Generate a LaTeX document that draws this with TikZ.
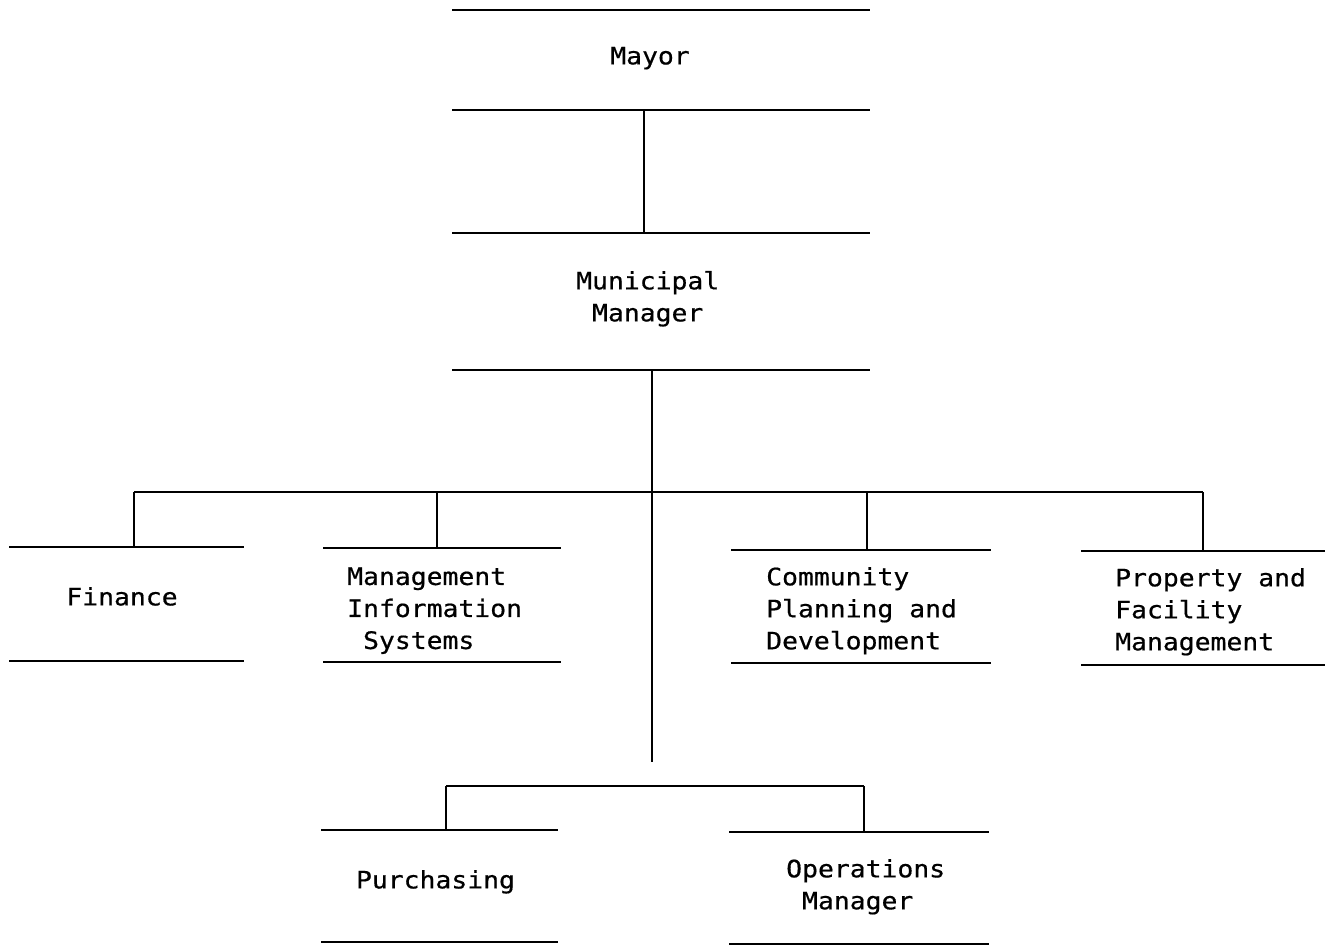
\documentclass[tikz,border=0pt]{standalone}
\usepackage{fontspec}
\newfontfamily\orgmono[FakeStretch=1.1,FakeBold=0.6]{DejaVu Sans Mono}
\begin{document}
\begin{tikzpicture}[x=1pt,y=-1pt,
  rule/.style={line width=1.5pt, black},
  unit/.style={draw=none, inner sep=0pt, outer sep=0pt},
  lbl/.style={font=\orgmono\fontsize{24}{32}\selectfont, inner sep=0pt,
    execute at begin node=\strut, execute at end node=\strut}]
\useasboundingbox (0,0) rectangle (1327,947);
% boxes (top and bottom rules only)
\node[unit, minimum width=418pt, minimum height=100pt] (mayor) at (661,60) {};
\node[unit, minimum width=418pt, minimum height=137pt] (mm) at (661,301.5) {};
\node[unit, minimum width=235pt, minimum height=114pt] (fin) at (126.5,604) {};
\node[unit, minimum width=238pt, minimum height=114pt] (mis) at (442,605) {};
\node[unit, minimum width=260pt, minimum height=113pt] (cpd) at (861,606.5) {};
\node[unit, minimum width=244pt, minimum height=114pt] (pfm) at (1203,608) {};
\node[unit, minimum width=237pt, minimum height=112pt] (pur) at (439.5,886) {};
\node[unit, minimum width=260pt, minimum height=112pt] (ops) at (859,888) {};
\foreach \b in {mayor,mm,fin,mis,cpd,pfm,pur,ops}{
  \draw[rule] (\b.north west) -- (\b.north east) (\b.south west) -- (\b.south east);
}
% labels
\node[lbl, align=center] (tMayor) at (650,58) {Mayor};
\node[lbl, align=left, anchor=west] (tMM) at (576,301) {Municipal\\\hphantom{M}Manager};
\node[lbl] (tFin) at (122,599) {Finance};
\node[lbl, align=left, anchor=west] (tMIS) at (347,613) {Management\\Information\\\hphantom{S}Systems};
\node[lbl, align=left, anchor=west] (tCPD) at (766,613) {Community\\Planning and\\Development};
\node[lbl, align=left, anchor=west] (tPFM) at (1115,614) {Property and\\Facility\\Management};
\node[lbl] (tPur) at (435.5,882) {Purchasing};
\node[lbl, align=left, anchor=west] (tOps) at (786,889) {Operations\\\hphantom{O}Manager};
% connectors
\coordinate (c1) at (644,0);
\draw[rule] (mayor.south -| c1) -- (mm.north -| c1);
\coordinate (trunk) at (652,762);
\draw[rule] (mm.south -| trunk) -- (trunk);
\coordinate (busL) at (134,492);
\coordinate (busR) at (1203,492);
\coordinate (b2) at (437,492);
\coordinate (b3) at (867,492);
\draw[rule] (busL) -- (busR);
\draw[rule] (busL) -- (fin.north -| busL);
\draw[rule] (b2) -- (mis.north -| b2);
\draw[rule] (b3) -- (cpd.north -| b3);
\draw[rule] (busR) -- (pfm.north -| busR);
\coordinate (sbL) at (446,786);
\coordinate (sbR) at (864,786);
\draw[rule] (sbL) -- (sbR);
\draw[rule] (sbL) -- (pur.north -| sbL);
\draw[rule] (sbR) -- (ops.north -| sbR);
\end{tikzpicture}
\end{document}
